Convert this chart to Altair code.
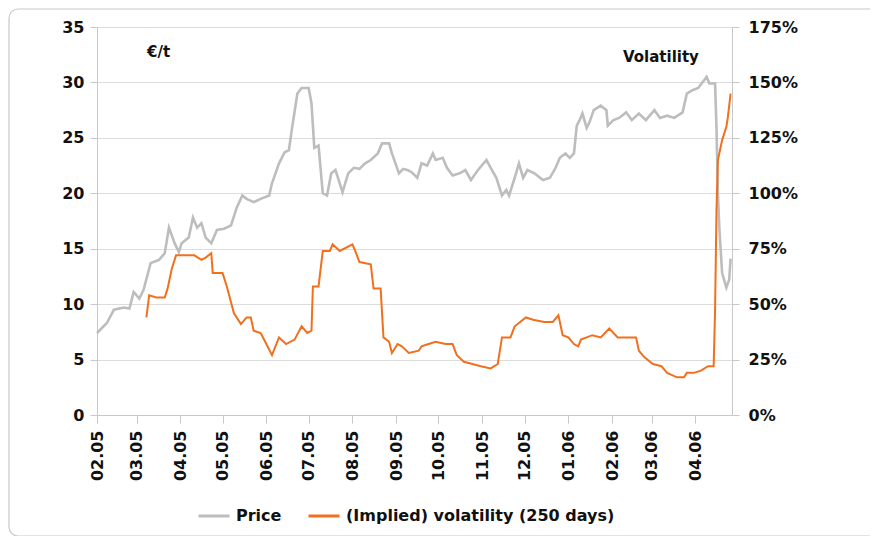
import altair as alt
import pandas as pd

# Price (EUR/t): day offset from 2005-02-01 and value
price_days = [0, 7, 12, 19, 23, 26, 30, 33, 38, 44, 48, 51, 55, 58, 60, 65, 68, 71, 74, 77,
              81, 85, 90, 95, 99, 103, 106, 111, 116, 122, 124, 129, 133, 136, 138, 142, 145,
              150, 152, 154, 157, 160, 163, 166, 169, 174, 178, 182, 186, 190, 194, 199, 202,
              207, 209, 214, 217, 220, 223, 227, 230, 234, 238, 240, 245, 248, 252, 257, 261,
              265, 270, 276, 279, 283, 287, 290, 292, 296, 299, 302, 305, 310, 316, 321, 325,
              328, 332, 335, 338, 340, 342, 344, 347, 349, 352, 357, 361, 362, 366, 370, 375,
              379, 384, 389, 395, 399, 404, 409, 415, 418, 422, 426, 429, 432, 434, 438, 439,
              440, 441, 443, 446, 448, 449]
price_vals = [7.4, 8.3, 9.5, 9.7, 9.6, 11.1, 10.5, 11.3, 13.7, 14.0, 14.6, 16.9, 15.5, 14.7,
              15.5, 16.0, 17.8, 16.9, 17.3, 16.0, 15.5, 16.7, 16.8, 17.1, 18.7, 19.8, 19.5,
              19.2, 19.5, 19.8, 20.9, 22.7, 23.7, 23.9, 25.7, 29.0, 29.5, 29.5, 28.1, 24.1,
              24.3, 20.0, 19.8, 21.8, 22.1, 20.1, 21.8, 22.3, 22.2, 22.7, 23.0, 23.6, 24.5,
              24.5, 23.6, 21.8, 22.2, 22.1, 21.9, 21.4, 22.7, 22.5, 23.6, 23.0, 23.2, 22.3,
              21.6, 21.8, 22.1, 21.2, 22.1, 23.0, 22.3, 21.4, 19.8, 20.3, 19.8, 21.4, 22.7,
              21.4, 22.1, 21.8, 21.2, 21.4, 22.3, 23.2, 23.6, 23.2, 23.6, 26.1, 26.6, 27.2,
              25.9, 26.4, 27.5, 27.9, 27.5, 26.1, 26.6, 26.8, 27.3, 26.6, 27.2, 26.6, 27.5,
              26.8, 27.0, 26.8, 27.3, 29.0, 29.3, 29.5, 30.0, 30.5, 29.9, 29.9, 25.9, 20.0,
              16.9, 12.8, 11.5, 12.2, 14.1]

# (Implied) volatility (250 days), in %
vol_days = [35, 37, 42, 48, 50, 53, 56, 69, 74, 77, 81, 82, 89, 92, 97, 102, 106, 109, 111,
            116, 120, 124, 129, 134, 140, 145, 149, 152, 153, 157, 160, 165, 167, 172, 181,
            183, 186, 194, 196, 201, 203, 207, 209, 213, 216, 221, 228, 230, 235, 240, 247,
            252, 255, 260, 266, 272, 279, 284, 287, 293, 296, 304, 309, 317, 323, 327, 330,
            334, 338, 341, 343, 351, 357, 363, 369, 374, 382, 384, 388, 394, 400, 404, 411,
            416, 418, 423, 428, 433, 437, 438, 439, 440, 443, 446, 447, 449]
vol_vals = [44, 54, 53, 53, 57, 66, 72, 72, 70, 71, 73, 64, 64, 58, 46, 41, 44, 44, 38, 37,
            32, 27, 35, 32, 34, 40, 37, 38, 58, 58, 74, 74, 77, 74, 77, 74, 69, 68, 57, 57,
            35, 33, 28, 32, 31, 28, 29, 31, 32, 33, 32, 32, 27, 24, 23, 22, 21, 23, 35, 35,
            40, 44, 43, 42, 42, 45, 36, 35, 32, 31, 34, 36, 35, 39, 35, 35, 35, 29, 26, 23,
            22, 19, 17, 17, 19, 19, 20, 22, 22, 47, 92, 115, 124, 130, 134, 145]

month_ticks = [(2005, m) for m in range(2, 13)] + [(2006, m) for m in range(1, 5)]
series_names = ["Price", "(Implied) volatility (250 days)"]
series_colors = ["#BDBDBD", "#F0701E"]

start = pd.Timestamp("2005-02-01")
price_df = pd.DataFrame({
    "date": [(start + pd.Timedelta(days=d)).strftime("%Y-%m-%d") for d in price_days],
    "price": price_vals,
    "series": series_names[0],
})
vol_df = pd.DataFrame({
    "date": [(start + pd.Timedelta(days=d)).strftime("%Y-%m-%d") for d in vol_days],
    "vol": vol_vals,
    "series": series_names[1],
})

FONT = "DejaVu Sans"
W, H = 635, 388

x_enc = alt.X(
    "date:T",
    scale=alt.Scale(type="utc",
                    domain=[alt.DateTime(year=2005, month=2, date=1, utc=True),
                            alt.DateTime(year=2006, month=4, date=27, utc=True)]),
    axis=alt.Axis(
        values=[alt.DateTime(year=y, month=m, date=1, utc=True) for y, m in month_ticks],
        labelExpr="utcFormat(datum.value, '%m.%y')", labelAngle=-90, title=None,
        grid=False, tickSize=8, labelPadding=7, domainColor="#C8C8C8",
        tickColor="#C8C8C8", labelFont=FONT, labelFontSize=16, labelFontWeight="bold",
        labelColor="#111111",
    ),
)

color_enc = alt.Color(
    "series:N",
    scale=alt.Scale(domain=series_names, range=series_colors),
    legend=alt.Legend(title=None, orient="none", legendX=100, legendY=472,
                      direction="horizontal", symbolType="stroke",
                      symbolSize=961, symbolStrokeWidth=3, labelOffset=5,
                      columnPadding=20, padding=0, labelFont=FONT,
                      labelFontSize=16, labelFontWeight="bold",
                      labelColor="#111111", labelLimit=400),
)

price_line = alt.Chart(price_df).mark_line(strokeWidth=2.6).encode(
    x=x_enc,
    y=alt.Y("price:Q", scale=alt.Scale(domain=[0, 35], nice=False),
            axis=alt.Axis(values=list(range(0, 36, 5)), title=None, orient="left",
                          tickSize=7, labelPadding=6, gridColor="#DCDCDC",
                          domainColor="#C8C8C8", tickColor="#C8C8C8",
                          labelFont=FONT, labelFontSize=16, labelFontWeight="bold",
                          labelColor="#111111")),
    color=color_enc,
)

vol_line = alt.Chart(vol_df).mark_line(strokeWidth=2).encode(
    x=x_enc,
    y=alt.Y("vol:Q", scale=alt.Scale(domain=[0, 175], nice=False),
            axis=alt.Axis(values=list(range(0, 176, 25)), title=None, orient="right",
                          grid=False, tickSize=7, labelPadding=9,
                          labelExpr="datum.value + '%'",
                          domainColor="#C8C8C8", tickColor="#C8C8C8",
                          labelFont=FONT, labelFontSize=16, labelFontWeight="bold",
                          labelColor="#111111")),
    color=color_enc,
)

one = pd.DataFrame({"k": [0]})
unit_label = alt.Chart(one).mark_text(text="€/t", align="left", baseline="middle",
                                      font=FONT, fontSize=15, fontWeight="bold",
                                      color="#111111").encode(
    x=alt.value(50), y=alt.value(25))
vol_label = alt.Chart(one).mark_text(text="Volatility", align="left", baseline="middle",
                                     font=FONT, fontSize=15, fontWeight="bold",
                                     color="#111111").encode(
    x=alt.value(526), y=alt.value(30))
frame = alt.Chart(one).mark_rect(fill="transparent", stroke="#C8C8C8", strokeWidth=1.2,
                                 cornerRadius=9).encode(
    x=alt.value(-88), x2=alt.value(783), y=alt.value(-18), y2=alt.value(509))

chart = alt.layer(frame, price_line, vol_line, unit_label, vol_label).resolve_scale(
    y="independent"
).properties(
    width=W, height=H,
    autosize=alt.AutoSizeParams(type="none"),
    padding={"left": 89, "top": 19, "right": 138, "bottom": 121},
).configure_view(stroke=None).configure(background="white")

chart.save("out.html", embed_options={"renderer": "svg", "actions": False})
